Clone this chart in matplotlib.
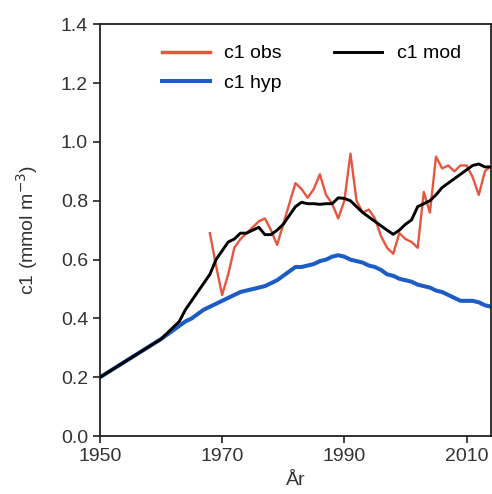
import numpy as np
import matplotlib
matplotlib.use("Agg")
from matplotlib import pyplot as plt

# DATA
years = np.arange(1950, 2015)

c1_mod = [0.200, 0.213, 0.226, 0.239, 0.252, 0.265, 0.278, 0.291, 0.304, 0.317,
          0.330, 0.350, 0.370, 0.390, 0.430, 0.460, 0.490, 0.520, 0.550, 0.600,
          0.630, 0.660, 0.670, 0.690, 0.690, 0.700, 0.710, 0.685, 0.685, 0.700,
          0.720, 0.750, 0.780, 0.795, 0.790, 0.790, 0.788, 0.790, 0.790, 0.810,
          0.808, 0.800, 0.780, 0.760, 0.745, 0.730, 0.715, 0.700, 0.686, 0.700,
          0.720, 0.735, 0.780, 0.790, 0.800, 0.820, 0.845, 0.860, 0.875, 0.890,
          0.905, 0.920, 0.925, 0.915, 0.915]

c1_hyp = [0.200, 0.213, 0.226, 0.239, 0.252, 0.265, 0.278, 0.291, 0.304, 0.317,
          0.330, 0.345, 0.360, 0.375, 0.390, 0.400, 0.415, 0.430, 0.440, 0.450,
          0.460, 0.470, 0.480, 0.490, 0.495, 0.500, 0.505, 0.510, 0.520, 0.530,
          0.545, 0.560, 0.575, 0.575, 0.580, 0.585, 0.595, 0.600, 0.610, 0.615,
          0.610, 0.600, 0.595, 0.590, 0.580, 0.575, 0.565, 0.550, 0.545, 0.535,
          0.530, 0.525, 0.515, 0.510, 0.505, 0.495, 0.490, 0.480, 0.470, 0.460,
          0.460, 0.460, 0.455, 0.445, 0.440]

obs_years = np.arange(1968, 2015)
c1_obs = [0.69, 0.58, 0.48, 0.55, 0.64, 0.67, 0.69, 0.71, 0.73, 0.74,
          0.70, 0.65, 0.72, 0.79, 0.86, 0.84, 0.81, 0.84, 0.89, 0.82,
          0.79, 0.74, 0.80, 0.96, 0.80, 0.76, 0.77, 0.74, 0.68, 0.64,
          0.62, 0.69, 0.67, 0.66, 0.64, 0.83, 0.76, 0.95, 0.91, 0.92,
          0.90, 0.92, 0.92, 0.88, 0.82, 0.90, 0.92]

xticks = [1950, 1970, 1990, 2010]
yticks = np.arange(0, 1.41, 0.2)

plt.rcParams['font.family'] = ['Liberation Sans', 'DejaVu Sans']
plt.rcParams['font.size'] = 14

fig = plt.figure(figsize=(4.92, 4.94), dpi=100)
ax = fig.add_axes([0.203, 0.117, 0.795, 0.834])

ax.plot(years, c1_hyp, color='#1c5cc4', lw=2.9, label='c1 hyp', zorder=2)
ax.plot(obs_years, c1_obs, color='#e8553f', lw=1.7, label='c1 obs', zorder=3)
ax.plot(years, c1_mod, color='black', lw=2.1, label='c1 mod', zorder=4)

ax.set_xlim(1950, 2014)
ax.set_ylim(0, 1.4)
ax.set_xticks(xticks)
ax.set_yticks(yticks)
ax.set_yticklabels(['%.1f' % v for v in yticks])
ax.tick_params(direction='out', length=5, width=1.2, colors='#222222', labelcolor='#333333')
for s in ax.spines.values():
    s.set_linewidth(1.3)
    s.set_color('#222222')

ax.set_xlabel('År', color='#333333', labelpad=5)
ax.set_ylabel('c1 (mmol m$^{-3}$)', color='#333333', labelpad=15)

h, l = ax.get_legend_handles_labels()
order = [1, 0, 2]  # obs, hyp | mod
leg = ax.legend([h[i] for i in order], [l[i] for i in order], ncol=2, frameon=False,
                loc='upper left', bbox_to_anchor=(0.159, 0.95), borderaxespad=0, borderpad=0,
                handlelength=2.45, handletextpad=0.75, columnspacing=2.7, labelspacing=0.6)
leg.get_lines()[0].set_linewidth(2.5)

fig.savefig('out.png', dpi=100)
